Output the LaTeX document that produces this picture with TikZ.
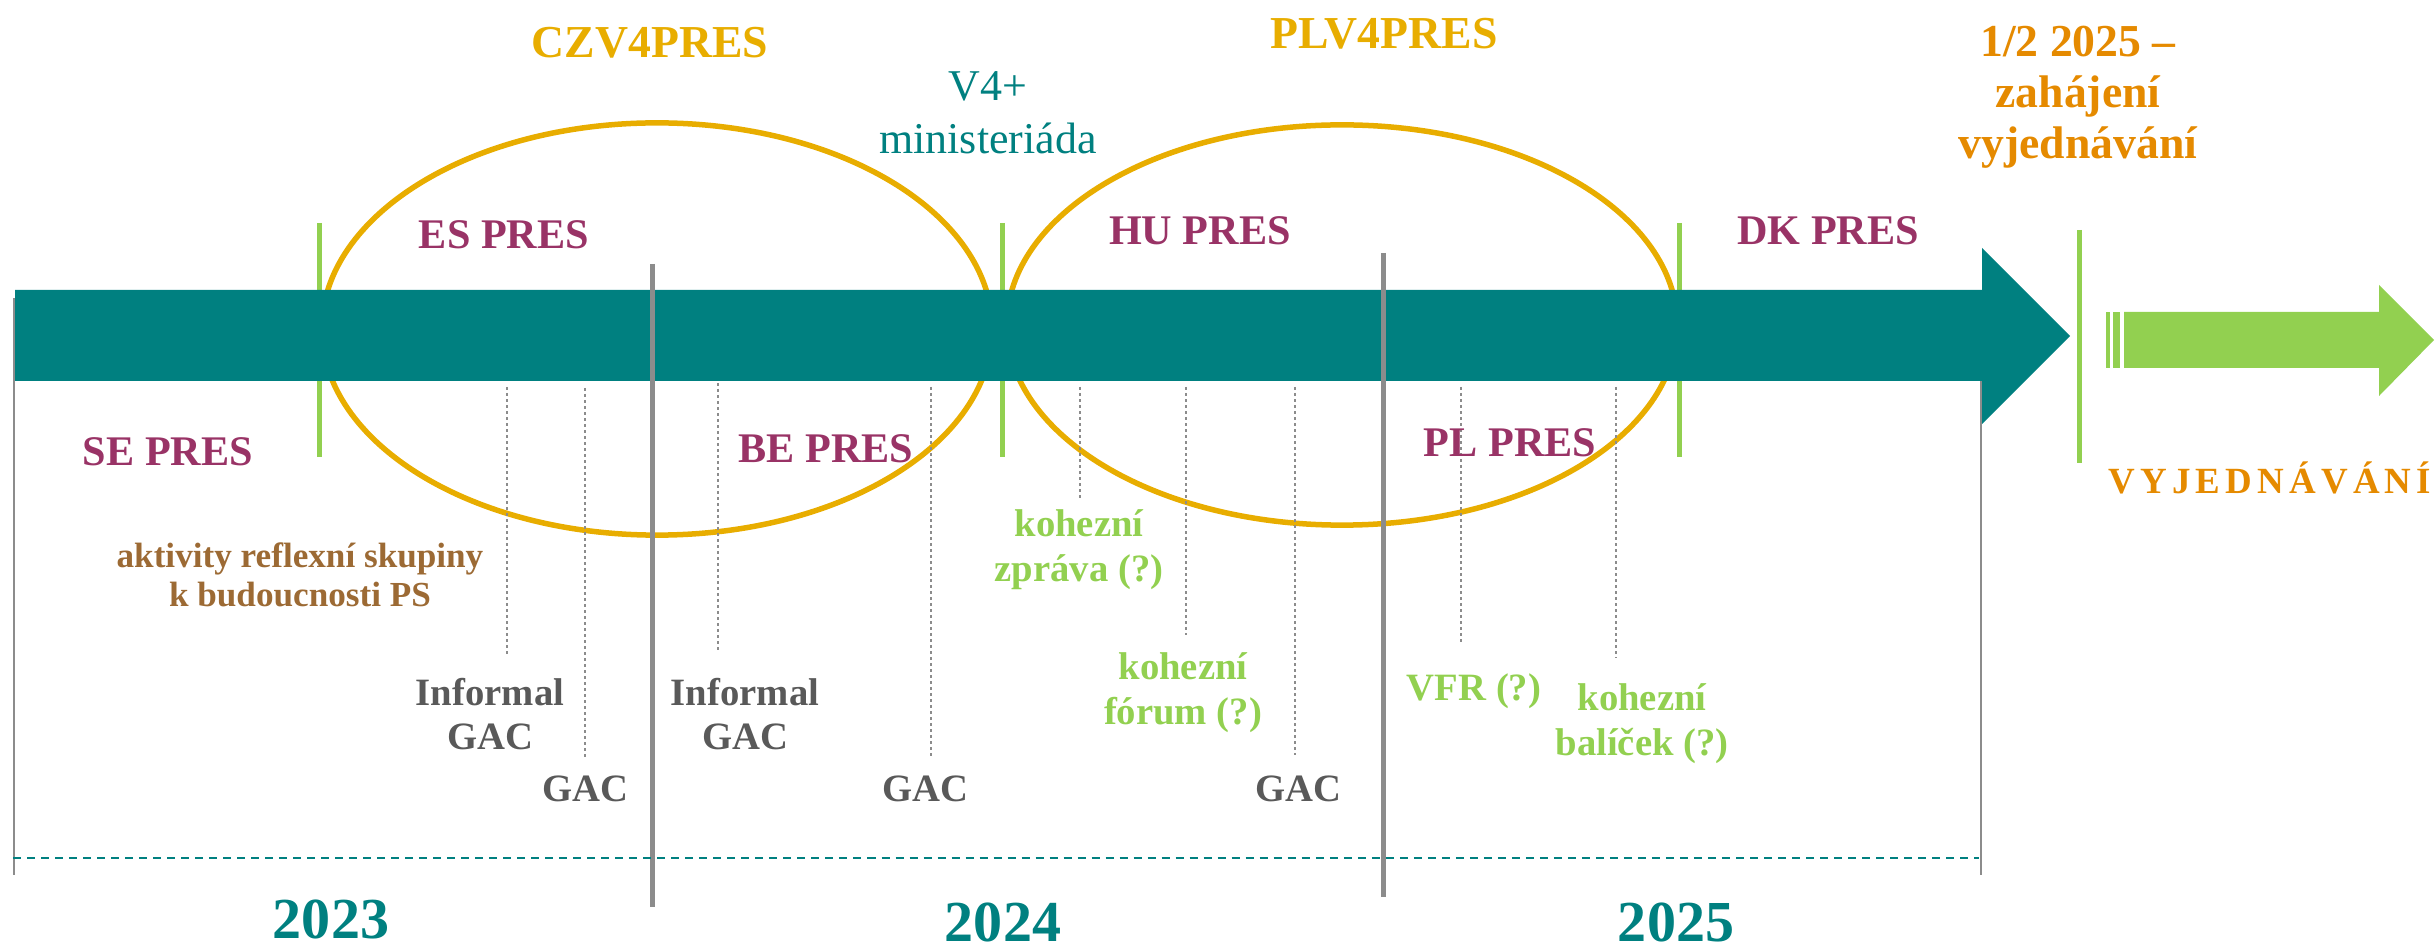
\documentclass[tikz,border=0pt]{standalone}
\usepackage{fontspec}
\setmainfont{Liberation Serif}
\newfontfamily\vyjfont{Liberation Serif}[LetterSpace=14]
\definecolor{tealc}{HTML}{008080}
\definecolor{goldc}{HTML}{E8AD00}
\definecolor{presc}{HTML}{993366}
\definecolor{greenc}{HTML}{92D050}
\definecolor{divc}{HTML}{8C8C8C}
\definecolor{brownc}{HTML}{9C6A34}
\definecolor{grayc}{HTML}{595959}
\definecolor{orangec}{HTML}{E58A00}
\begin{document}
\begin{tikzpicture}[x=0.01cm,y=-0.01cm,
  lbl/.style={font=\bfseries\fontsize{12}{14}\selectfont,text=presc},
  trio/.style={font=\bfseries\fontsize{13}{15}\selectfont,text=goldc},
  gac/.style={font=\bfseries\fontsize{11}{12.5}\selectfont,text=grayc,align=center},
  koh/.style={font=\bfseries\fontsize{11}{12.8}\selectfont,text=greenc,align=center},
  yr/.style={font=\bfseries\fontsize{16.5}{18}\selectfont,text=tealc,inner sep=0pt},
  tick/.style={greenc,line width=0.5mm},
  divider/.style={divc,line width=0.5mm},
  leader/.style={divc,line width=0.15mm,dash pattern=on 0.3mm off 0.3mm}]
\useasboundingbox (0,0) rectangle (2435,949);
% trio presidencies
\draw[goldc,line width=0.55mm] (657,329) ellipse [x radius=3.35cm,y radius=2.06cm];
\draw[goldc,line width=0.55mm] (1342,325) ellipse [x radius=3.35cm,y radius=2.0cm];
\foreach \x in {319,1002,1679}
  \draw[tick] (\x,223) -- (\x,457);
\draw[tick] (2079,230) -- (2079,463);
\draw[divc,line width=0.2mm] (14,298) -- (14,875);
\draw[divc,line width=0.2mm] (1981,381) -- (1981,875);
% timeline
\fill[tealc] (15,290) -- (1982,290) -- (1982,248) -- (2070,336) -- (1982,424) -- (1982,381) -- (15,381) -- cycle;
\fill[greenc] (2124,312) -- (2379,312) -- (2379,285) -- (2434,340) -- (2379,396) -- (2379,368) -- (2124,368) -- cycle;
\fill[greenc] (2106,312) rectangle (2110,368);
\fill[greenc] (2113,312) rectangle (2120,368);
\draw[divider] (652,264) -- (652,907);
\draw[divider] (1383,253) -- (1383,897);
\draw[tealc,line width=0.2mm,dash pattern=on 0.8mm off 0.6mm] (13,858) -- (1979,858);
\foreach \x/\a/\b in {507/387/657,585/388/759,718/383/653,931/387/757,1080/387/500,1186/387/635,1295/387/755,1461/387/643,1616/387/658}
  \draw[leader] (\x,\a) -- (\x,\b);
% labels
\node[trio] (czv4) at (650,43) {CZV4PRES};
\node[trio] (plv4) at (1384,34) {PLV4PRES};
\node[font=\fontsize{12.5}{15}\selectfont,text=tealc,align=center] (mini) at (988,113) {V4+\\ministeriáda};
\node[font=\bfseries\fontsize{13}{14.5}\selectfont,text=orangec,align=center] (start) at (2078,97) {1/2 2025 –\\zahájení\\vyjednávání};
\node[lbl] (es) at (504,235) {ES PRES};
\node[lbl] (hu) at (1200,231) {HU PRES};
\node[lbl] (dk) at (1828,231) {DK PRES};
\node[lbl] (se) at (168,452) {SE PRES};
\node[lbl] (be) at (826,449) {BE PRES};
\node[lbl] (pl) at (1510,443) {PL PRES};
\node[anchor=west,inner sep=0pt,font=\vyjfont\bfseries\fontsize{10.5}{12}\selectfont,text=orangec] (vyj) at (2108,478) {VYJEDNÁVÁNÍ};
\node[font=\bfseries\fontsize{10}{11}\selectfont,text=brownc,align=center] (refl) at (300,575) {aktivity reflexní skupiny\\k budoucnosti PS};
\node[gac] (igac1) at (490,714) {Informal\\GAC};
\node[gac] (igac2) at (745,714) {Informal\\GAC};
\node[gac] (gac1) at (585,789) {GAC};
\node[gac] (gac2) at (925,789) {GAC};
\node[gac] (gac3) at (1298,789) {GAC};
\node[koh] (zprava) at (1079,550) {kohezní\\zpráva (?)};
\node[koh] (forum) at (1183,693) {kohezní\\fórum (?)};
\node[koh] (vfr) at (1474,691) {VFR (?)};
\node[koh] (balicek) at (1642,724) {kohezní\\balíček (?)};
\node[yr] (y23) at (331,919) {2023};
\node[yr] (y24) at (1003,922) {2024};
\node[yr] (y25) at (1676,922) {2025};
\end{tikzpicture}
\end{document}
